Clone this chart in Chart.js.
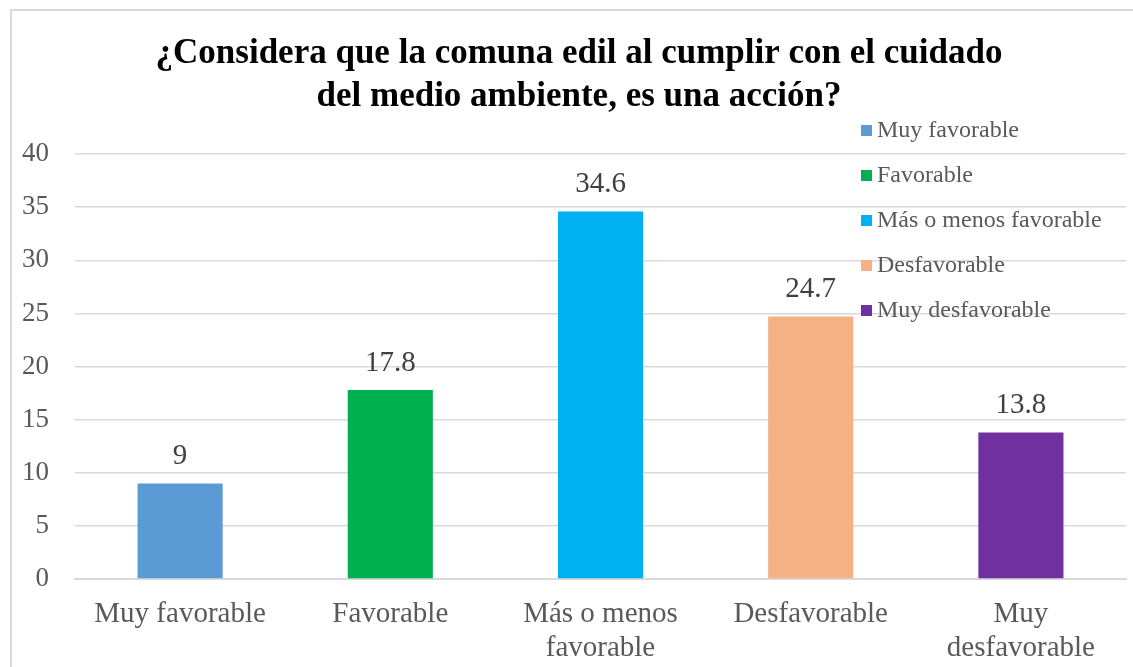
<!DOCTYPE html>
<html>
<head>
<meta charset="utf-8">
<script src="https://cdn.jsdelivr.net/npm/chart.js@4.4.0/dist/chart.umd.min.js"></script>
<style>
  body{margin:0;background:#fff;}
  #wrap{width:1133px;height:667px;position:relative;}
</style>
</head>
<body>
<div id="wrap"><canvas id="grafico" width="1133" height="667"></canvas></div>
<script>
//Datos
const categorias = ['Muy favorable','Favorable','Más o menos favorable','Desfavorable','Muy desfavorable'];
const etiquetasX = [['Muy favorable'],['Favorable'],['Más o menos','favorable'],['Desfavorable'],['Muy','desfavorable']];
const valores = [9, 17.8, 34.6, 24.7, 13.8];
const colores = ['#5B9BD5','#00B050','#00B0F0','#F4B183','#7030A0'];
const titulo = ['¿Considera que la comuna edil al cumplir con el cuidado','del medio ambiente, es una acción?'];

const fuente = "'Liberation Serif','Times New Roman',serif";

// marco gris alrededor del grafico
const marco = {
    id:'marco',
    beforeDraw(chart){
        const ctx = chart.ctx;
        ctx.save();
        ctx.fillStyle = '#fff';
        ctx.fillRect(0,0,chart.width,chart.height);
        ctx.strokeStyle = '#d9d9d9';
        ctx.lineWidth = 2;
        ctx.strokeRect(11,10,1300,1000);
        ctx.restore();
    }
}

// el titulo va centrado dentro del marco, no en todo el canvas
const moverTitulo = {
    id:'moverTitulo',
    afterLayout(chart){
        if(chart.titleBlock){
            chart.titleBlock.left = 32;
        }
    }
}

// valores encima de cada barra
const etiquetas = {
    id:'etiquetas',
    afterDatasetsDraw(chart){
        const ctx = chart.ctx;
        const meta = chart.getDatasetMeta(0);
        ctx.save();
        ctx.font = '29px ' + fuente;
        ctx.fillStyle = '#404040';
        ctx.textAlign = 'center';
        ctx.textBaseline = 'middle';
        meta.data.forEach(function(bar,i){
            ctx.fillText(String(valores[i]), bar.x, bar.y-27);
        });
        ctx.restore();
    }
}

// leyenda a la derecha, encima del area del grafico
const leyenda = {
    id:'leyenda',
    afterDraw(chart){
        const ctx = chart.ctx;
        ctx.save();
        ctx.font = '24px ' + fuente;
        ctx.textBaseline = 'middle';
        for(let i=0;i<categorias.length;i++){
            let y = 130 + i*45;
            ctx.fillStyle = colores[i];
            ctx.fillRect(861, y-5, 11, 11);
            ctx.fillStyle = '#595959';
            ctx.fillText(categorias[i], 877, y+1);
        }
        ctx.restore();
    }
}

const grafico = new Chart(document.querySelector('#grafico'),{
    type:'bar',
    data:{
        labels: etiquetasX,
        datasets:[{
            label:'Porcentaje',
            data: valores,
            backgroundColor: colores,
            categoryPercentage: 1,
            barPercentage: 0.405
        }]
    },
    options:{
        responsive:false,
        animation:false,
        layout:{ padding:{top:10, left:0, right:7, bottom:0} },
        plugins:{
            legend:{ display:false },
            tooltip:{ enabled:false },
            title:{
                display:true,
                text: titulo,
                color:'#000',
                font:{ family:fuente, size:35, weight:'bold', lineHeight:1.23 },
                padding:{ top:22, bottom:36 }
            }
        },
        scales:{
            x:{
                grid:{ display:false, drawTicks:false },
                border:{ color:'#d9d9d9', width:2 },
                ticks:{
                    color:'#595959',
                    padding:18,
                    maxRotation:0,
                    autoSkip:false,
                    font:{ family:fuente, size:29, lineHeight:1.17 }
                },
                afterFit(scale){ scale.height = 88; }
            },
            y:{
                min:0,
                max:40,
                grid:{ color:'#d9d9d9', lineWidth:1.5, drawTicks:false },
                border:{ display:false },
                ticks:{
                    stepSize:5,
                    color:'#595959',
                    padding:26,
                    font:{ family:fuente, size:27 }
                },
                afterFit(scale){ scale.width = 75; }
            }
        }
    },
    plugins:[marco, moverTitulo, etiquetas, leyenda]
});
</script>
</body>
</html>
